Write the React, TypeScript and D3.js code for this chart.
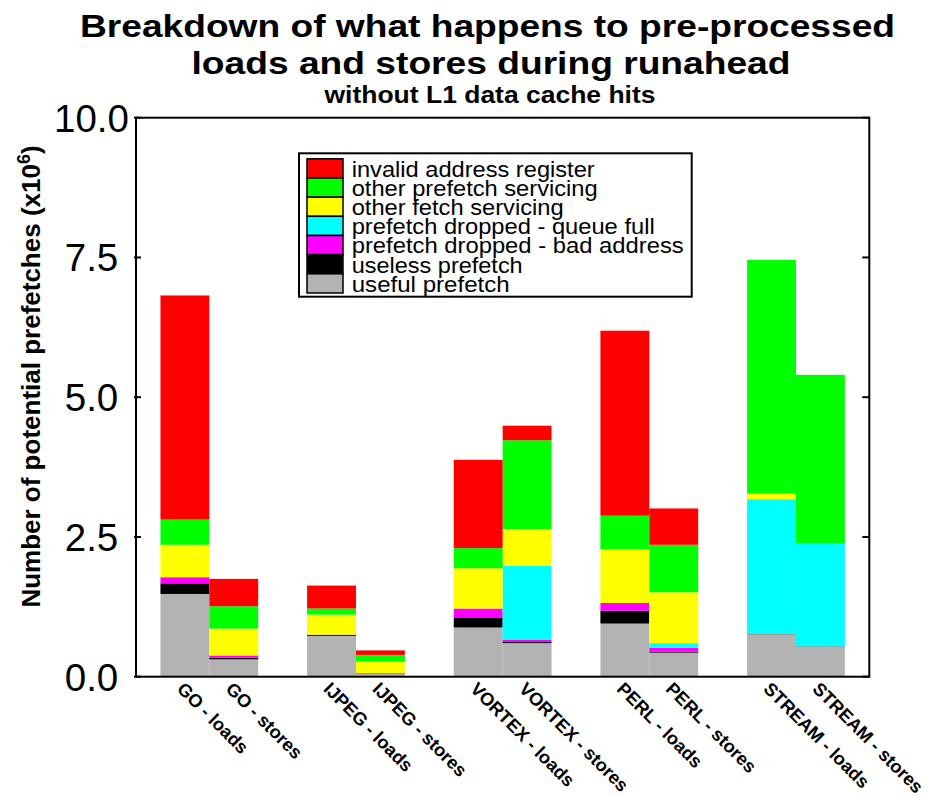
import React from "react";
import * as d3 from "d3";

// ---------------- data ----------------
const groups = ["GO", "IJPEG", "VORTEX", "PERL", "STREAM"];
const kinds = ["loads", "stores"];
const categories = groups.flatMap((g) => kinds.map((k) => `${g} - ${k}`));

// values in millions, per category (order as in categories)
const usefulPrefetch = [1.48, 0.31, 0.73, 0.05, 0.88, 0.6, 0.95, 0.43, 0.76, 0.54];
const uselessPrefetch = [0.19, 0.03, 0.02, 0.01, 0.17, 0.02, 0.23, 0.02, 0.005, 0.005];
const droppedBadAddress = [0.11, 0.04, 0, 0, 0.17, 0.04, 0.14, 0.07, 0, 0];
const droppedQueueFull = [0, 0, 0, 0, 0, 1.32, 0, 0.08, 2.41, 1.83];
const otherFetch = [0.58, 0.48, 0.36, 0.21, 0.72, 0.66, 0.96, 0.91, 0.1, 0.005];
const otherPrefetch = [0.45, 0.4, 0.11, 0.12, 0.36, 1.59, 0.6, 0.85, 4.18, 3.02];
const invalidAddress = [4.01, 0.49, 0.41, 0.08, 1.58, 0.26, 3.31, 0.65, 0, 0];

const seriesKeys = ["useful", "useless", "bad", "queue", "fetch", "prefetch", "invalid"];
const seriesValues = [
  usefulPrefetch,
  uselessPrefetch,
  droppedBadAddress,
  droppedQueueFull,
  otherFetch,
  otherPrefetch,
  invalidAddress,
];
const seriesLabels = [
  "useful prefetch",
  "useless prefetch",
  "prefetch dropped - bad address",
  "prefetch dropped - queue full",
  "other fetch servicing",
  "other prefetch servicing",
  "invalid address register",
];
const seriesColors = ["#b3b3b3", "#000000", "#ff00ff", "#00ffff", "#ffff00", "#00ff00", "#ff0000"];
// legend order (top to bottom) with measured text widths
const legendOrder = [6, 5, 4, 3, 2, 1, 0];
const legendWidths = [243, 246, 212, 303, 332, 171, 158];

const yTicks = [0, 2.5, 5, 7.5, 10];

// ---------------- layout ----------------
const W = 944;
const H = 797;
const L = 136;
const R = 869.3;
const T = 117.7;
const B = 676.7;

const FONT = "'Liberation Sans', Arial, Helvetica, sans-serif";

export default function App() {
  const rows = categories.map((c, i) => {
    const o: any = { cat: c, group: groups[Math.floor(i / 2)], kind: kinds[i % 2] };
    seriesKeys.forEach((k, s) => (o[k] = seriesValues[s][i]));
    return o;
  });
  const stacked = d3.stack<any>().keys(seriesKeys)(rows);

  const x0 = d3.scaleBand<string>().domain(groups).range([L, R]).paddingInner(1 / 3).paddingOuter(1 / 6);
  const x1 = d3.scaleBand<string>().domain(kinds).range([0, x0.bandwidth()]).padding(0);
  const y = d3.scaleLinear().domain([0, 10]).range([B, T]);

  const bx = (d: any) => (x0(d.data.group) as number) + (x1(d.data.kind) as number);

  const legX = 299;
  const legY = 153.3;
  const legW = 392.7;
  const legH = 143.4;
  const rowH = 19.17;

  return (
    <svg
      width={W}
      height={H}
      viewBox={`0 0 ${W} ${H}`}
      style={{ position: "absolute", left: 0, top: 0, background: "#fff" }}
      fontFamily={FONT}
    >
      <rect x={0} y={0} width={W} height={H} fill="#fff" />
      {/* titles */}
      <text x={487.5} y={36.7} textAnchor="middle" fontSize={30.5} fontWeight="bold" textLength={815} lengthAdjust="spacingAndGlyphs">
        Breakdown of what happens to pre-processed
      </text>
      <text x={491} y={74} textAnchor="middle" fontSize={30.5} fontWeight="bold" textLength={599} lengthAdjust="spacingAndGlyphs">
        loads and stores during runahead
      </text>
      <text x={490} y={103} textAnchor="middle" fontSize={23} fontWeight="bold" textLength={331} lengthAdjust="spacingAndGlyphs">
        without L1 data cache hits
      </text>

      {/* bars */}
      {stacked.map((layer, s) => (
        <g key={layer.key} fill={seriesColors[s]}>
          {layer.map((d: any, i: number) =>
            d[1] - d[0] > 0 ? (
              <rect key={i} x={bx(d)} width={x1.bandwidth()} y={y(d[1])} height={y(d[0]) - y(d[1])} />
            ) : null
          )}
        </g>
      ))}

      {/* frame */}
      <rect x={L} y={T} width={R - L} height={B - T} fill="none" stroke="#000" strokeWidth={2} />
      {yTicks.map((t) => (
        <g key={t}>
          <line x1={L - 2} x2={L + 5} y1={y(t)} y2={y(t)} stroke="#000" strokeWidth={2} />
          <line x1={R - 7} x2={R} y1={y(t)} y2={y(t)} stroke="#000" strokeWidth={2} />
          <text x={91.5} y={y(t)} dy="0.36em" textAnchor="middle" fontSize={38.5}>
            {d3.format(".1f")(t)}
          </text>
        </g>
      ))}

      {/* y label */}
      <text
        transform={`translate(39.5,376.5) rotate(-90)`}
        textAnchor="middle"
        fontSize={26}
        fontWeight="bold"
      >
        Number of potential prefetches (x10
        <tspan dy={-10} fontSize={18}>6</tspan>
        <tspan dy={10}>)</tspan>
      </text>

      {/* x labels */}
      {rows.map((r) => {
        const cx = (x0(r.group) as number) + (x1(r.kind) as number) + x1.bandwidth() / 2;
        return (
          <text
            key={r.cat}
            transform={`translate(${cx - 9},690) rotate(45)`}
            fontSize={18.2}
            fontWeight="bold"
          >
            {r.cat}
          </text>
        );
      })}

      {/* legend */}
      <rect x={legX} y={legY} width={legW} height={legH} fill="#fff" stroke="#000" strokeWidth={2} />
      {legendOrder.map((s, i) => (
        <g key={s}>
          <rect
            x={307}
            y={legY + 5.5 + i * rowH}
            width={36}
            height={rowH}
            fill={seriesColors[s]}
            stroke="#000"
            strokeWidth={1.5}
          />
          <text
            x={351.7}
            y={176.7 + i * rowH}
            fontSize={21.5}
            textLength={legendWidths[i]}
            lengthAdjust="spacingAndGlyphs"
          >
            {seriesLabels[s]}
          </text>
        </g>
      ))}
    </svg>
  );
}
